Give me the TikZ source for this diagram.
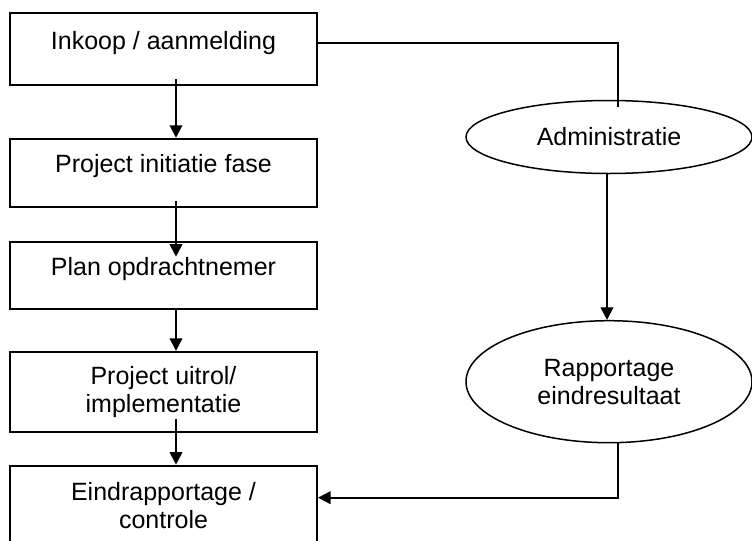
\documentclass[tikz,border=0pt]{standalone}
\usepackage{fontspec}
\setmainfont{Liberation Sans}
\usetikzlibrary{shapes.geometric,arrows.meta}

\begin{document}
\begin{tikzpicture}[x=0.4pt,y=-0.4pt,node distance=1cm]

		% Define styles
		\tikzstyle{stage} = [
		rectangle, minimum width=122.8pt, inner sep=0pt,
		text centered, draw=black, line width=0.8pt, align=center,
		font=\fontsize{10}{11.2}\selectfont]
		\tikzstyle{oneline} = [text height=1ex, text depth=1ex]
		\tikzstyle{report} = [
		ellipse, minimum width=114.4pt, inner sep=0pt,
		text centered, draw=black, line width=0.6pt, align=center,
		font=\fontsize{10}{11.2}\selectfont]
		\tikzstyle{arrow} = [line width=0.8pt,-{Triangle[width=5pt,length=5pt]}]
		\tikzstyle{link} = [line width=0.8pt]

		\useasboundingbox (0,0) rectangle (752,540);

		% Nodes
		\node (inkoop) [stage, oneline, minimum height=28.8pt] at (163.5,49) {Inkoop / aanmelding};

		\node (initiatie) [stage, oneline, minimum height=27.2pt, below of=inkoop, yshift=-0.74cm] {Project initiatie fase};

		\node (plan) [stage, oneline, minimum height=26.8pt, below of=initiatie, yshift=-0.44cm] {Plan opdrachtnemer};

		\node (uitrol) [stage, minimum height=32pt, below of=plan, yshift=-0.64cm] {
			Project uitrol/\\
			implementatie
		};

		\node (eind) [stage, minimum height=32pt, below of=uitrol, yshift=-0.6cm] {
			Eindrapportage /\\
			controle
		};

		\node (admin) [report, minimum height=29.2pt] at (609,137) {Administratie};

		\node (rapport) [report, minimum height=48.8pt, below of=admin, yshift=-2.44cm] {
			Rapportage\\
			eindresultaat
		};


		% Arrows
		\draw [arrow] ([xshift=5pt,yshift=2.8pt]inkoop.south) -- ([xshift=5pt]initiatie.north);
		\draw [arrow] ([xshift=5pt,yshift=2.8pt]initiatie.south) -- ([xshift=5pt,yshift=-6.4pt]plan.north);
		\draw [arrow] ([xshift=5pt]plan.south) -- ([xshift=5pt]uitrol.north);
		\draw [arrow] ([xshift=5pt,yshift=5.6pt]uitrol.south) -- ([xshift=5pt]eind.north);
		\draw [link] ([yshift=2.4pt]inkoop.east) -| ([xshift=3.6pt,yshift=-2.8pt]admin.north);
		\draw [arrow] ([xshift=-0.8pt]admin.south) -- ([xshift=-0.8pt]rapport.north);
		\draw [arrow] ([xshift=3.6pt]rapport.south) |- ([yshift=3.2pt]eind.east);
	\end{tikzpicture}
\end{document}
